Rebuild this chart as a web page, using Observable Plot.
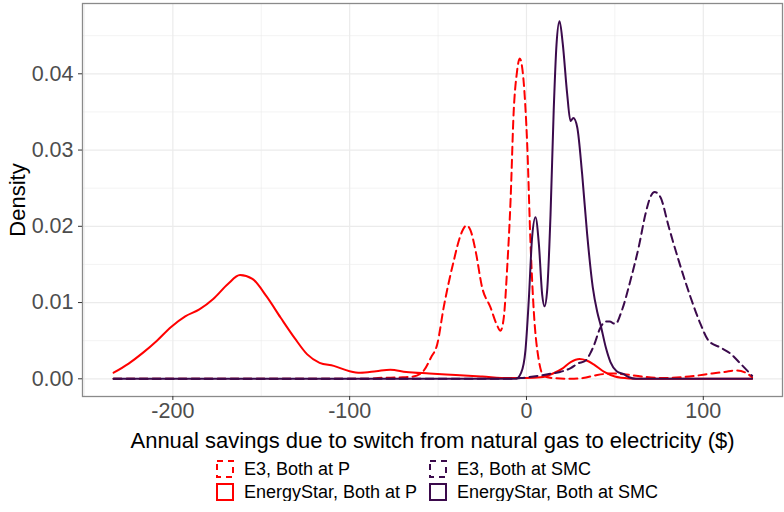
<!DOCTYPE html>
<html>
<head>
<meta charset="utf-8">
<script src="https://cdn.jsdelivr.net/npm/d3@7"></script>
<script src="https://cdn.jsdelivr.net/npm/@observablehq/plot@0.6"></script>
<style>
  html, body { margin: 0; padding: 0; background: #fff; }
  #wrap { width: 784px; font-family: "Liberation Sans", Arial, sans-serif; }
  #legend { display: flex; justify-content: center; padding-left: 90px; margin-top: 4px; }
  #legend .grid { display: grid; grid-template-columns: auto auto; column-gap: 12px; row-gap: 5px; }
  #legend .item { display: flex; align-items: center; font-size: 18px; color: #000; height: 18px; }
  #legend svg { margin-right: 10px; }
</style>
</head>
<body>
<div id="wrap"></div>
<script>
// ---- data ----
const seriesNames = ["E3, Both at P", "EnergyStar, Both at P", "E3, Both at SMC", "EnergyStar, Both at SMC"];

const e3PX = [-233.5, -90, -84, -70, -64, -58, -54, -50.5, -46.8, -41.1, -37.3, -33.9, -31.7, -28.8, -25.1, -20.4, -16.6, -14.7, -12.8, -10.9, -9, -7.2, -5.5, -3.8, -1.5, 0.4, 2.3, 4.1, 7, 9.8, 15, 25, 32, 40, 48, 55, 65, 77, 92, 105, 112, 119, 124.8, 127.6];
const e3PY = [0, 0, 0.0001, 0.0002, 0.0003, 0.0011, 0.0028, 0.0045, 0.0094, 0.0155, 0.0188, 0.0201, 0.0195, 0.0168, 0.0120, 0.0094, 0.0070, 0.0063, 0.0081, 0.0146, 0.0234, 0.0352, 0.0400, 0.0420, 0.0387, 0.0308, 0.0177, 0.0090, 0.0024, 0.0004, 0.0001, 0, 0.0001, 0.0005, 0.0007, 0.0006, 0.0003, 0.0001, 0.0003, 0.0007, 0.0009, 0.0011, 0.0007, 0.0002];

const esPX = [-233.5, -225, -217, -209, -201, -193, -185, -177, -169, -162, -155, -147, -139, -131, -124, -117, -109, -100, -94, -85, -77, -68, -55, -40, -25, -10, 0, 8, 15, 20, 25, 30, 34, 38, 44, 50, 58, 65, 127.6];
const esPY = [0.0008, 0.0020, 0.0034, 0.0050, 0.0068, 0.0082, 0.0091, 0.0105, 0.0124, 0.0136, 0.0131, 0.0108, 0.0080, 0.0053, 0.0032, 0.0021, 0.0017, 0.0010, 0.0008, 0.0010, 0.0012, 0.0009, 0.0007, 0.0005, 0.0003, 0.0001, 0.0001, 0.0002, 0.0007, 0.0013, 0.0022, 0.0026, 0.0024, 0.0019, 0.0009, 0.0003, 0.00005, 0, 0];

const e3SX = [-233.5, -10, -3, 4, 12, 19, 25, 29, 33.5, 36, 38, 42, 45, 47, 50.3, 54, 58.8, 63.5, 67.3, 70, 72.5, 75.8, 80.5, 86.1, 92.8, 98.4, 103, 109.7, 115.4, 121, 127.6];
const e3SY = [0, 0, 0.0001, 0.0003, 0.0006, 0.0009, 0.0014, 0.0020, 0.0024, 0.0033, 0.0043, 0.0068, 0.0075, 0.0075, 0.0072, 0.0090, 0.0129, 0.0173, 0.0216, 0.0238, 0.0245, 0.0238, 0.0199, 0.0155, 0.0107, 0.0072, 0.0050, 0.0041, 0.0033, 0.0020, 0.0004];

const esSX = [-233.5, -6, -3, -0.6, 1.3, 3.2, 5.1, 7, 8.9, 10.2, 11.7, 13.6, 15.4, 17, 18.7, 20.5, 23, 24.9, 26.5, 28.7, 31.5, 34.3, 37.5, 40, 42, 45, 47.5, 51, 55, 58, 62, 127.6];
const esSY = [0, 0, 0.0008, 0.0037, 0.0103, 0.0186, 0.0212, 0.0177, 0.0110, 0.0095, 0.0116, 0.0215, 0.0352, 0.0439, 0.0469, 0.0440, 0.0374, 0.0338, 0.0342, 0.0330, 0.0268, 0.0190, 0.0120, 0.0088, 0.0070, 0.0040, 0.0022, 0.0010, 0.0006, 0.0002, 0, 0];

const xTicks = [-200, -100, 0, 100];
const yTicks = [0, 0.01, 0.02, 0.03, 0.04];
const xMinor = [-250, -150, -50, 50];
const yMinor = [0.005, 0.015, 0.025, 0.035, 0.045];

const xTitle = "Annual savings due to switch from natural gas to electricity ($)";
const yTitle = "Density";

// ---- styles ----
const RED = "#FF0000", PURPLE = "#3B0A4C";
const styles = {
  "E3, Both at P": {stroke: RED, dash: "8,5"},
  "EnergyStar, Both at P": {stroke: RED, dash: null},
  "E3, Both at SMC": {stroke: PURPLE, dash: "8,5"},
  "EnergyStar, Both at SMC": {stroke: PURPLE, dash: null}
};

const raw = {
  "E3, Both at P": [e3PX, e3PY],
  "EnergyStar, Both at P": [esPX, esPY],
  "E3, Both at SMC": [e3SX, e3SY],
  "EnergyStar, Both at SMC": [esSX, esSY]
};
const rows = seriesNames.flatMap(s => raw[s][0].map((x, i) => ({series: s, x, y: raw[s][1][i]})));

const lineMarks = seriesNames.map(s => Plot.line(rows.filter(d => d.series === s), {
  x: "x", y: "y", stroke: styles[s].stroke, strokeWidth: 2,
  strokeDasharray: styles[s].dash || undefined, curve: "monotone-x"
}));

const chart = Plot.plot({
  width: 784, height: 456,
  marginLeft: 82, marginRight: 2, marginTop: 3, marginBottom: 60,
  style: {fontFamily: "'Liberation Sans', Arial, sans-serif", background: "#fff", overflow: "visible"},
  x: {domain: [-251.1, 144.8]},
  y: {domain: [-0.00232, 0.04922]},
  marks: [
    Plot.gridX(xMinor, {stroke: "#EBEBEB", strokeOpacity: 1, strokeWidth: 0.6}),
    Plot.gridY(yMinor, {stroke: "#EBEBEB", strokeOpacity: 1, strokeWidth: 0.6}),
    Plot.gridX(xTicks, {stroke: "#EBEBEB", strokeOpacity: 1, strokeWidth: 1.2}),
    Plot.gridY(yTicks, {stroke: "#EBEBEB", strokeOpacity: 1, strokeWidth: 1.2}),
    ...lineMarks,
    Plot.frame({stroke: "#8a8a8a", strokeWidth: 1.3}),
    Plot.axisX(xTicks, {tickSize: 4, tickPadding: 2, fontSize: 21.5, fill: "#4D4D4D", stroke: "#333", tickFormat: d => String(d), label: null}),
    Plot.axisY(yTicks, {tickSize: 4, tickPadding: 5, fontSize: 21.5, fill: "#4D4D4D", stroke: "#333", tickFormat: d3.format(".2f"), label: null}),
    Plot.text([xTitle], {text: d => d, frameAnchor: "bottom", dy: 44, lineAnchor: "middle", textAnchor: "middle", fontSize: 22, fill: "#000"}),
    Plot.text([yTitle], {text: d => d, frameAnchor: "left", dx: -65, rotate: -90, lineAnchor: "middle", textAnchor: "middle", fontSize: 22, fill: "#000"})
  ]
});

const wrap = document.getElementById("wrap");
wrap.appendChild(chart);

// ---- legend ----
const legend = document.createElement("div");
legend.id = "legend";
const grid = document.createElement("div");
grid.className = "grid";
const order = ["E3, Both at P", "E3, Both at SMC", "EnergyStar, Both at P", "EnergyStar, Both at SMC"];
for (const s of order) {
  const st = styles[s];
  const item = document.createElement("div");
  item.className = "item";
  item.innerHTML = `<svg width="18" height="18"><rect x="1" y="1" width="16" height="16" fill="none" stroke="${st.stroke}" stroke-width="2" ${st.dash ? 'stroke-dasharray="6,5"' : ''}/></svg><span>${s}</span>`;
  grid.appendChild(item);
}
legend.appendChild(grid);
wrap.appendChild(legend);
</script>
</body>
</html>
